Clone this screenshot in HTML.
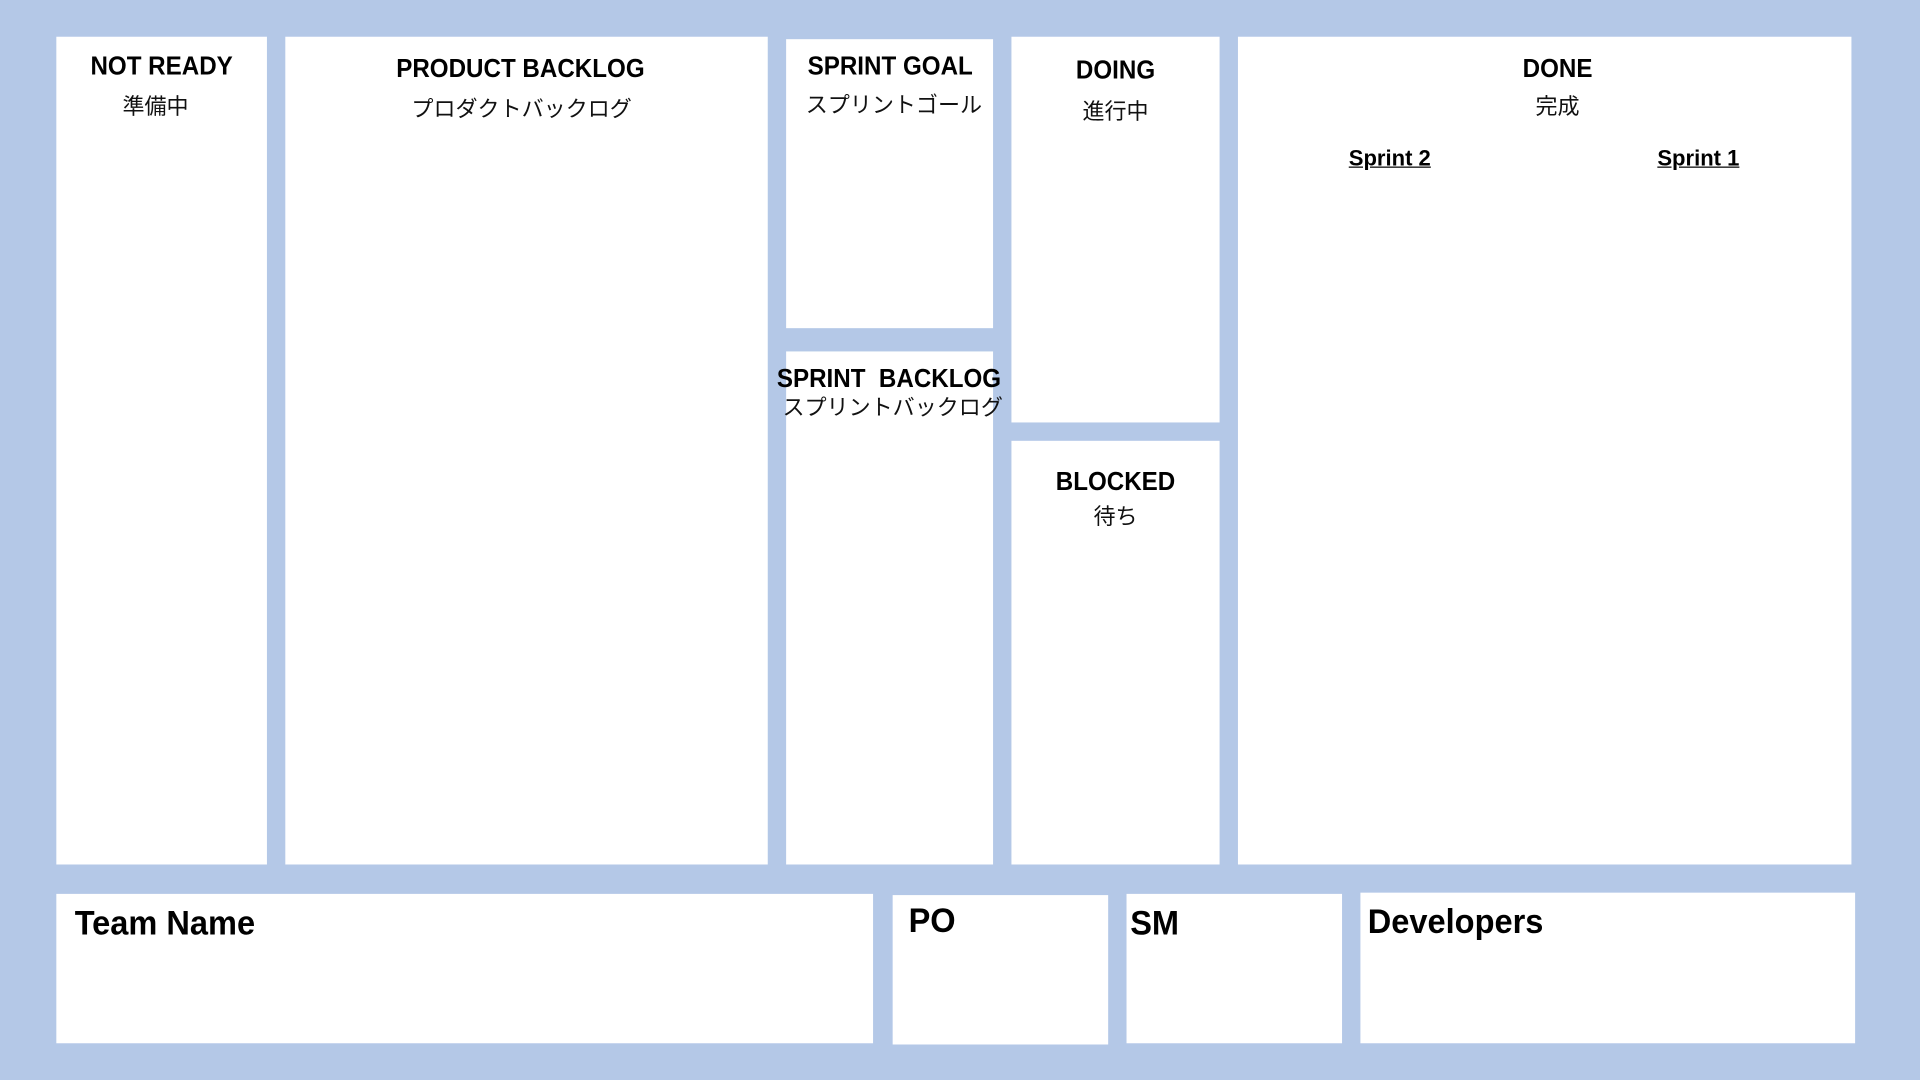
<!DOCTYPE html>
<html><head><meta charset="utf-8"><style>
html,body{margin:0;padding:0;width:1920px;height:1080px;overflow:hidden;background:#b4c8e7;}
#w{position:absolute;left:0;top:0;width:1568px;height:882px;transform:scale(1.22449);transform-origin:0 0;}
.b{position:absolute;background:#fff;}
.t{position:absolute;font-family:"Liberation Sans","Noto Sans CJK JP",sans-serif;font-weight:bold;font-size:21px;line-height:1;white-space:nowrap;color:#000;transform:translateX(-50%) scaleX(0.94);}
.c{position:absolute;font-family:"Liberation Sans","Noto Sans CJK JP",sans-serif;font-size:18px;line-height:1;white-space:nowrap;color:#111;transform:translateX(-50%);}
.s{position:absolute;font-family:"Liberation Sans",sans-serif;font-weight:bold;font-size:18px;line-height:1;text-decoration:underline;transform:translateX(-50%);}
.L{position:absolute;font-family:"Liberation Sans",sans-serif;font-weight:bold;font-size:28px;line-height:1;white-space:nowrap;transform:scaleX(0.95);transform-origin:0 0;}
</style></head><body><div id="w">
<div class="b" style="left:46px;top:30px;width:172px;height:676px"></div>
<div class="b" style="left:233px;top:30px;width:394px;height:676px"></div>
<div class="b" style="left:642px;top:32px;width:169px;height:236px"></div>
<div class="b" style="left:642px;top:287px;width:169px;height:419px"></div>
<div class="b" style="left:826px;top:30px;width:170px;height:315px"></div>
<div class="b" style="left:826px;top:360px;width:170px;height:346px"></div>
<div class="b" style="left:1011px;top:30px;width:501px;height:676px"></div>
<div class="b" style="left:46px;top:730px;width:667px;height:122px"></div>
<div class="b" style="left:729px;top:731px;width:176px;height:122px"></div>
<div class="b" style="left:920px;top:730px;width:176px;height:122px"></div>
<div class="b" style="left:1111px;top:729px;width:404px;height:123px"></div>

<div class="t" style="left:132px;top:44px">NOT READY</div>
<div class="c" style="left:127px;top:78px">準備中</div>
<div class="t" style="left:425px;top:46px">PRODUCT BACKLOG</div>
<div class="c" style="left:426px;top:80px">プロダクトバックログ</div>
<div class="t" style="left:727px;top:44px">SPRINT GOAL</div>
<div class="c" style="left:730px;top:77px">スプリントゴール</div>
<div class="t" style="left:911px;top:47px">DOING</div>
<div class="c" style="left:911px;top:82px">進行中</div>
<div class="t" style="left:1272px;top:46px">DONE</div>
<div class="c" style="left:1272px;top:78px">完成</div>
<div class="s" style="left:1135px;top:120px">Sprint 2</div>
<div class="s" style="left:1387px;top:120px">Sprint 1</div>
<div class="t" style="left:726px;top:299px;white-space:pre">SPRINT  BACKLOG</div>
<div class="c" style="left:729px;top:324px">スプリントバックログ</div>
<div class="t" style="left:911px;top:383px">BLOCKED</div>
<div class="c" style="left:911px;top:413px">待ち</div>

<div class="L" style="left:61px;top:740px">Team Name</div>
<div class="L" style="left:742px;top:738px">PO</div>
<div class="L" style="left:923px;top:740px">SM</div>
<div class="L" style="left:1117px;top:739px">Developers</div>
</div></body></html>
